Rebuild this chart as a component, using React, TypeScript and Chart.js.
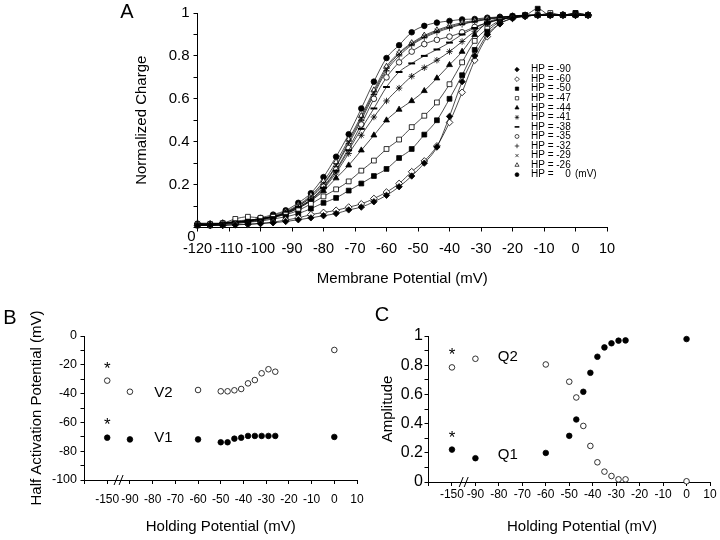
import { useEffect, useRef } from "react"
import { Chart, registerables } from "chart.js"
import { drawPoint } from "chart.js/helpers"

Chart.register(...registerables)

const FONT = "'Liberation Sans', Arial, Helvetica, sans-serif"
Chart.defaults.font.family = FONT
Chart.defaults.color = "#000"

// ---------- Panel A: normalized charge vs membrane potential ----------
const membranePotential = [
  -120, -116, -112, -108, -104, -100, -96, -92, -88, -84, -80, -76, -72, -68, -64, -60,
  -56, -52, -48, -44, -40, -36, -32, -28, -24, -20, -16, -12, -8, -4, 0, 4,
]

const hpMinus90 = [0.01, 0.01, 0.01, 0.012, 0.015, 0.018, 0.022, 0.028, 0.036, 0.045, 0.055, 0.065, 0.082, 0.095, 0.12, 0.15, 0.19, 0.24, 0.3, 0.375, 0.518, 0.68, 0.8, 0.9, 0.95, 0.975, 0.985, 0.99, 0.99, 0.99, 0.99, 0.99]
const hpMinus60 = [0.01, 0.01, 0.01, 0.015, 0.015, 0.02, 0.025, 0.035, 0.045, 0.06, 0.07, 0.08, 0.095, 0.11, 0.135, 0.165, 0.205, 0.26, 0.31, 0.38, 0.49, 0.63, 0.78, 0.89, 0.95, 0.975, 0.985, 0.99, 0.99, 0.99, 0.99, 0.99]
const hpMinus50 = [0.01, 0.01, 0.015, 0.02, 0.025, 0.03, 0.04, 0.05, 0.065, 0.088, 0.115, 0.138, 0.172, 0.205, 0.24, 0.273, 0.324, 0.366, 0.433, 0.5, 0.6, 0.71, 0.828, 0.913, 0.96, 0.985, 0.99, 1.02, 0.99, 0.99, 1.0, 0.99]
const hpMinus47 = [0.015, 0.015, 0.02, 0.04, 0.05, 0.045, 0.05, 0.06, 0.08, 0.11, 0.145, 0.178, 0.215, 0.265, 0.312, 0.366, 0.41, 0.468, 0.521, 0.583, 0.668, 0.77, 0.87, 0.927, 0.965, 0.98, 0.99, 0.99, 1.0, 0.99, 1.0, 0.99]
const hpMinus44 = [0.015, 0.015, 0.02, 0.025, 0.03, 0.035, 0.05, 0.065, 0.09, 0.125, 0.17, 0.23, 0.29, 0.36, 0.43, 0.5, 0.55, 0.59, 0.637, 0.696, 0.758, 0.82, 0.898, 0.955, 0.975, 0.985, 0.99, 0.99, 0.99, 0.99, 0.99, 0.99]
const hpMinus41 = [0.02, 0.02, 0.02, 0.025, 0.035, 0.04, 0.05, 0.065, 0.09, 0.125, 0.18, 0.255, 0.345, 0.43, 0.515, 0.59, 0.65, 0.705, 0.745, 0.78, 0.82, 0.867, 0.915, 0.95, 0.97, 0.98, 0.985, 0.99, 0.99, 0.99, 0.99, 0.99]
const hpMinus38 = [0.015, 0.015, 0.02, 0.025, 0.03, 0.04, 0.05, 0.07, 0.095, 0.13, 0.185, 0.265, 0.36, 0.46, 0.555, 0.655, 0.725, 0.765, 0.8, 0.83, 0.862, 0.9, 0.93, 0.955, 0.97, 0.98, 0.985, 0.99, 0.99, 0.99, 0.99, 0.99]
const hpMinus35 = [0.01, 0.01, 0.015, 0.02, 0.025, 0.035, 0.045, 0.065, 0.095, 0.13, 0.19, 0.27, 0.37, 0.48, 0.6, 0.7, 0.77, 0.82, 0.855, 0.875, 0.89, 0.91, 0.935, 0.955, 0.97, 0.978, 0.985, 0.99, 0.99, 0.99, 0.99, 0.99]
const hpMinus32 = [0.015, 0.015, 0.02, 0.025, 0.03, 0.04, 0.05, 0.07, 0.1, 0.14, 0.2, 0.285, 0.39, 0.5, 0.62, 0.73, 0.8, 0.85, 0.885, 0.91, 0.93, 0.947, 0.96, 0.97, 0.978, 0.984, 0.988, 0.99, 0.99, 0.99, 0.99, 0.99]
const hpMinus29 = [0.02, 0.015, 0.02, 0.03, 0.035, 0.04, 0.05, 0.07, 0.1, 0.145, 0.205, 0.29, 0.4, 0.51, 0.63, 0.74, 0.81, 0.855, 0.89, 0.915, 0.935, 0.95, 0.962, 0.972, 0.98, 0.985, 0.988, 0.99, 0.99, 0.99, 0.99, 0.99]
const hpMinus26 = [0.02, 0.015, 0.02, 0.025, 0.03, 0.04, 0.055, 0.075, 0.105, 0.15, 0.215, 0.305, 0.41, 0.52, 0.64, 0.75, 0.815, 0.86, 0.895, 0.92, 0.94, 0.955, 0.965, 0.975, 0.98, 0.985, 0.988, 0.99, 0.99, 0.99, 0.992, 0.99]
const hpZero = [0.015, 0.015, 0.02, 0.025, 0.03, 0.045, 0.06, 0.08, 0.115, 0.16, 0.235, 0.33, 0.435, 0.555, 0.68, 0.79, 0.85, 0.91, 0.94, 0.955, 0.963, 0.97, 0.972, 0.978, 0.982, 0.985, 0.988, 0.99, 0.99, 0.992, 0.99, 0.99]

const hpSeries = [hpMinus90, hpMinus60, hpMinus50, hpMinus47, hpMinus44, hpMinus41, hpMinus38, hpMinus35, hpMinus32, hpMinus29, hpMinus26, hpZero]
const hpLabels = ["-90", "-60", "-50", "-47", "-44", "-41", "-38", "-35", "-32", "-29", "-26", "0"]

// marker for each holding potential, same order as hpLabels
const hpMarkers = [
  { style: "rectRot", filled: true, r: 3.2 },
  { style: "rectRot", filled: false, r: 3.4 },
  { style: "rect", filled: true, r: 3.4 },
  { style: "rect", filled: false, r: 3.4 },
  { style: "triangle", filled: true, r: 3.4 },
  { style: "star", filled: false, r: 3.2 },
  { style: "line", filled: false, r: 3.4 },
  { style: "circle", filled: false, r: 2.8 },
  { style: "cross", filled: false, r: 3.2 },
  { style: "crossRot", filled: false, r: 3.2 },
  { style: "triangle", filled: false, r: 3.4 },
  { style: "circle", filled: true, r: 2.8 },
]

// ---------- Panels B and C: fit parameters vs holding potential ----------
const holdingPotential = [-150, -90, -60, -50, -47, -44, -41, -38, -35, -32, -29, -26, 0]
const halfV2 = [-31, -38.7, -37.5, -38.4, -38.4, -37.7, -36.8, -32.9, -30.6, -25.9, -23.1, -24.8, -9.7]
const halfV1 = [-70.6, -71.8, -71.8, -73.8, -73.8, -71.3, -70.6, -69.4, -69.4, -69.4, -69.4, -69.4, -70.1]
const ampQ2 = [0.785, 0.844, 0.805, 0.687, 0.579, 0.384, 0.247, 0.135, 0.071, 0.041, 0.018, 0.018, 0.005]
const ampQ1 = [0.222, 0.163, 0.199, 0.316, 0.428, 0.618, 0.748, 0.858, 0.922, 0.95, 0.968, 0.97, 0.979]

// -150 mV is drawn one tick left of -90, past the axis break
const toAxis = (hp: number) => (hp < -100 ? -100 : hp)
const BREAK_AT = -95

const black = "#000"
const border = { display: true, color: black, width: 1 }
const grid = (len: number) => ({
  drawOnChartArea: false,
  drawTicks: true,
  tickLength: len,
  color: black,
  lineWidth: 1,
})
const fixWidth = (w: number) => (s: any) => {
  s.width = w
}
const fixHeight = (h: number) => (s: any) => {
  s.height = h
}

type Note = { text: string; x: number; y: number; size: number }

// text placed in data space
function notesPlugin(notes: Note[]) {
  return {
    id: "notes",
    afterDatasetsDraw(chart: Chart) {
      const { ctx } = chart
      const xs = chart.scales.x
      const ys = chart.scales.y
      ctx.save()
      ctx.fillStyle = black
      ctx.textAlign = "center"
      ctx.textBaseline = "middle"
      notes.forEach((n) => {
        ctx.font = `${n.size}px ${FONT}`
        const px = xs.getPixelForValue(n.x)
        const py = ys.getPixelForValue(n.y)
        ctx.fillText(n.text, px, n.text === "*" ? py + n.size * 0.22 : py)
      })
      ctx.restore()
    },
  }
}

function letterPlugin(letter: string, x: number, y: number) {
  return {
    id: "panelLetter",
    afterDraw(chart: Chart) {
      const { ctx } = chart
      ctx.save()
      ctx.fillStyle = black
      ctx.font = `20px ${FONT}`
      ctx.textAlign = "center"
      ctx.textBaseline = "middle"
      ctx.fillText(letter, x, y)
      ctx.restore()
    },
  }
}

const breakPlugin = {
  id: "axisBreak",
  afterDraw(chart: Chart) {
    const { ctx, chartArea } = chart
    const x = chart.scales.x.getPixelForValue(BREAK_AT)
    const y = chartArea.bottom
    ctx.save()
    ctx.strokeStyle = black
    ctx.lineWidth = 1
    ;[-2.5, 2.5].forEach((dx) => {
      ctx.beginPath()
      ctx.moveTo(x + dx - 2, y + 5)
      ctx.lineTo(x + dx + 2, y - 5)
      ctx.stroke()
    })
    ctx.restore()
  },
}

const hpLegend = {
  id: "hpLegend",
  afterDraw(chart: Chart) {
    const { ctx, chartArea } = chart
    const mx = chartArea.left + 319.5
    const tx = chartArea.left + 333.5
    ctx.save()
    ctx.font = `10px ${FONT}`
    ctx.textBaseline = "middle"
    hpLabels.forEach((hp, i) => {
      const y = chartArea.top + 56.6 + i * 9.55
      const m = hpMarkers[i]
      ctx.fillStyle = m.filled ? black : "#fff"
      ctx.strokeStyle = black
      ctx.lineWidth = m.style === "line" ? 1.6 : 0.7
      drawPoint(ctx, { pointStyle: m.style, radius: m.r * 0.7, rotation: 0, borderWidth: ctx.lineWidth } as any, mx, y)
      ctx.fillStyle = black
      ctx.textAlign = "left"
      ctx.fillText("HP =", tx, y)
      ctx.textAlign = "right"
      ctx.fillText(hp, tx + 39.7, y)
      if (hp === "0") {
        ctx.textAlign = "left"
        ctx.fillText("(mV)", tx + 44, y)
      }
    })
    // origin label sits below-left of the corner
    ctx.font = `15px ${FONT}`
    ctx.textAlign = "center"
    ctx.fillText("0", chartArea.left - 6, chartArea.bottom + 9)
    ctx.restore()
  },
}

function useChart(make: (ctx: CanvasRenderingContext2D) => Chart) {
  const ref = useRef<HTMLCanvasElement>(null)
  useEffect(() => {
    const ctx = ref.current?.getContext("2d")
    if (!ctx) return
    const chart = make(ctx)
    return () => chart.destroy()
  }, [])
  return ref
}

function PanelA() {
  const ref = useChart(
    (ctx) =>
      new Chart(ctx, {
        type: "scatter",
        data: {
          datasets: hpSeries.map((vals, i) => {
            const m = hpMarkers[i]
            return {
              label: `HP = ${hpLabels[i]}`,
              data: membranePotential.map((x, k) => ({ x, y: vals[k] })),
              showLine: true,
              borderColor: black,
              borderWidth: 0.7,
              cubicInterpolationMode: "monotone",
              pointStyle: m.style,
              pointRadius: m.r,
              pointBackgroundColor: m.filled ? black : "#fff",
              pointBorderColor: black,
              pointBorderWidth: m.style === "line" ? 2 : 0.8,
              clip: false,
            } as any
          }),
        },
        options: {
          animation: false,
          responsive: true,
          maintainAspectRatio: false,
          layout: { padding: { left: 132.7, top: 12.7, right: 113, bottom: 4 } },
          plugins: { legend: { display: false }, tooltip: { enabled: false } },
          scales: {
            x: {
              type: "linear",
              min: -120,
              max: 10,
              afterFit: fixHeight(60.5),
              border,
              grid: grid(4),
              ticks: {
                stepSize: 10,
                autoSkip: false,
                maxRotation: 0,
                minRotation: 0,
                padding: 9,
                color: black,
                font: { size: 14.5 },
                callback: (v) => String(v),
              },
              title: { display: true, text: "Membrane Potential (mV)", color: black, font: { size: 15 }, padding: 0 },
            },
            y: {
              min: 0,
              max: 1,
              afterFit: fixWidth(64.8),
              border,
              grid: grid(4),
              ticks: {
                stepSize: 0.1,
                autoSkip: false,
                padding: 4,
                color: black,
                font: { size: 15 },
                callback: (v) => {
                  const k = Math.round(Number(v) * 10)
                  if (k === 0 || k % 2) return ""
                  return k === 10 ? "1" : (k / 10).toFixed(1)
                },
              },
              title: { display: true, text: "Normalized Charge", color: black, font: { size: 15 }, padding: 0 },
            },
          },
        },
        plugins: [hpLegend, letterPlugin("A", 127, 12)],
      })
  )
  return (
    <div style={{ position: "absolute", left: 0, top: 0, width: 720, height: 292 }}>
      <canvas ref={ref} />
    </div>
  )
}

const pointSet = (label: string, values: number[], filled: boolean) => ({
  label,
  data: holdingPotential.map((hp, i) => ({ x: toAxis(hp), y: values[i] })),
  pointRadius: 2.8,
  pointBackgroundColor: filled ? black : "#fff",
  pointBorderColor: black,
  pointBorderWidth: 0.8,
  clip: false,
})

const hpTick = (v: any) => {
  const n = Number(v)
  if (n === -110) return ""
  if (n === -100) return "-150"
  return String(n)
}

function PanelB() {
  const ref = useChart(
    (ctx) =>
      new Chart(ctx, {
        type: "scatter",
        data: { datasets: [pointSet("V2", halfV2, false), pointSet("V1", halfV1, true)] },
        options: {
          animation: false,
          responsive: true,
          maintainAspectRatio: false,
          layout: { padding: { left: 28, top: 46, right: 13.1, bottom: 4.3 } },
          plugins: { legend: { display: false }, tooltip: { enabled: false } },
          scales: {
            x: {
              type: "linear",
              min: -110,
              max: 10,
              afterFit: fixHeight(55.7),
              border,
              grid: grid(4),
              ticks: {
                stepSize: 10,
                autoSkip: false,
                maxRotation: 0,
                minRotation: 0,
                padding: 8.3,
                color: black,
                font: { size: 12 },
                callback: hpTick,
              },
              title: { display: true, text: "Holding Potential (mV)", color: black, font: { size: 15 }, padding: 0 },
            },
            y: {
              min: -100,
              max: 0,
              afterFit: fixWidth(56.5),
              border,
              grid: grid(4),
              ticks: {
                stepSize: 10,
                autoSkip: false,
                padding: 3.5,
                color: black,
                font: { size: 12.5 },
                callback: (v) => (Math.round(Number(v)) % 20 === 0 ? String(Math.round(Number(v))) : ""),
              },
              title: { display: true, text: "Half Activation Potential (mV)", color: black, font: { size: 15 }, padding: 0 },
            },
          },
        },
        plugins: [
          notesPlugin([
            { text: "*", x: -100, y: -20.6, size: 17 },
            { text: "*", x: -100, y: -59.5, size: 17 },
            { text: "V2", x: -75.2, y: -39.8, size: 15 },
            { text: "V1", x: -75.2, y: -70.6, size: 15 },
          ]),
          breakPlugin,
          letterPlugin("B", 10, 28),
        ],
      })
  )
  return (
    <div style={{ position: "absolute", left: 0, top: 290, width: 372, height: 250 }}>
      <canvas ref={ref} />
    </div>
  )
}

const cTitle = {
  id: "cTitle",
  afterDraw(chart: Chart) {
    const { ctx, chartArea } = chart
    ctx.save()
    ctx.fillStyle = black
    ctx.font = `15px ${FONT}`
    ctx.textAlign = "center"
    ctx.textBaseline = "middle"
    ctx.fillText("Holding Potential (mV)", chartArea.left + 153.5, chartArea.bottom + 44.7)
    ctx.restore()
  },
}

function PanelC() {
  const ref = useChart(
    (ctx) =>
      new Chart(ctx, {
        type: "scatter",
        data: { datasets: [pointSet("Q2", ampQ2, false), pointSet("Q1", ampQ1, true)] },
        options: {
          animation: false,
          responsive: true,
          maintainAspectRatio: false,
          layout: { padding: { left: 19, top: 46, right: 10, bottom: 4.3 } },
          plugins: { legend: { display: false }, tooltip: { enabled: false } },
          scales: {
            x: {
              type: "linear",
              min: -110,
              max: 10,
              afterFit: fixHeight(53.7),
              border,
              grid: grid(4),
              ticks: {
                stepSize: 10,
                autoSkip: false,
                maxRotation: 0,
                minRotation: 0,
                padding: 1,
                color: black,
                font: { size: 12 },
                callback: hpTick,
              },
            },
            y: {
              min: 0,
              max: 1,
              afterFit: fixWidth(49.5),
              border,
              grid: grid(4),
              ticks: {
                stepSize: 0.1,
                autoSkip: false,
                padding: 1.5,
                color: black,
                font: { size: 16 },
                callback: (v) => {
                  const k = Math.round(Number(v) * 10)
                  if (k % 2) return ""
                  if (k === 0) return "0"
                  return k === 10 ? "1" : (k / 10).toFixed(1)
                },
              },
              title: { display: true, text: "Amplitude", color: black, font: { size: 15 }, padding: 0 },
            },
          },
        },
        plugins: [
          notesPlugin([
            { text: "*", x: -100, y: 0.892, size: 17 },
            { text: "*", x: -100, y: 0.325, size: 17 },
            { text: "Q2", x: -76.2, y: 0.858, size: 15 },
            { text: "Q1", x: -76.2, y: 0.183, size: 15 },
          ]),
          breakPlugin,
          cTitle,
          letterPlugin("C", 22, 25),
        ],
      })
  )
  return (
    <div style={{ position: "absolute", left: 360, top: 290, width: 360, height: 250 }}>
      <canvas ref={ref} />
    </div>
  )
}

export default function App() {
  return (
    <div style={{ position: "fixed", left: 0, top: 0, width: 720, height: 540, background: "#fff" }}>
      <PanelA />
      <PanelB />
      <PanelC />
    </div>
  )
}
